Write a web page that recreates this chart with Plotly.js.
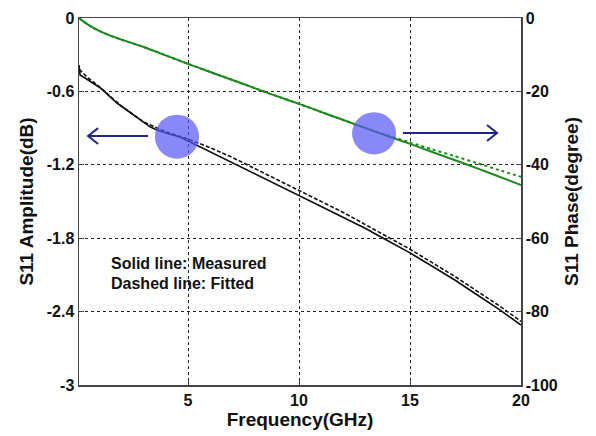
<!DOCTYPE html>
<html>
<head>
<meta charset="utf-8">
<script src="https://cdn.plot.ly/plotly-3.0.1.min.js"></script>
<style>html,body{margin:0;padding:0;background:#fff;}#chart{width:596px;height:436px;}</style>
</head>
<body>
<div id="chart"></div>
<script>
// Measured S11 amplitude (dB) vs frequency (GHz)
const freqAmpMeas = [0.09, 0.14, 0.36, 1.04, 1.8, 2.52, 3.29, 3.6, 4.0, 4.64, 5, 6, 7, 8, 9, 10, 11, 12, 13, 14, 15, 16, 17, 18, 19, 20];
const ampMeas     = [-0.384, -0.466, -0.49, -0.57, -0.695, -0.79, -0.89, -0.915, -0.94, -0.973, -1.005, -1.09, -1.18, -1.27, -1.36, -1.45, -1.54, -1.63, -1.72, -1.82, -1.92, -2.03, -2.14, -2.26, -2.38, -2.51];
// Fitted S11 amplitude (dB)
const freqAmpFit = [0.1, 0.5, 1, 2, 3, 4, 5, 6, 7, 8, 9, 10, 11, 12, 13, 14, 15, 16, 17, 18, 19, 20];
const ampFit     = [-0.42, -0.49, -0.56, -0.72, -0.85, -0.93, -0.99, -1.06, -1.14, -1.23, -1.32, -1.41, -1.50, -1.59, -1.69, -1.79, -1.89, -2.00, -2.11, -2.23, -2.35, -2.48];
// Measured S11 phase (degree)
const freqPhase  = [0.1, 0.3, 0.6, 1, 1.5, 2, 3, 4, 5, 6, 7, 8, 9, 10, 11, 12, 13, 14, 15, 16, 17, 18, 19, 20];
const phaseMeas  = [0, -1.0, -2.2, -3.5, -4.8, -5.9, -7.9, -10.2, -12.5, -14.7, -16.9, -19.1, -21.3, -23.4, -25.6, -27.8, -30.0, -32.2, -34.3, -36.5, -38.7, -40.9, -43.2, -45.5];
// Fitted S11 phase (degree)
const phaseFit   = [0, -1.0, -2.2, -3.5, -4.8, -5.9, -7.9, -10.2, -12.5, -14.7, -16.9, -19.1, -21.3, -23.4, -25.6, -27.8, -30.0, -32.0, -33.9, -35.8, -37.6, -39.5, -41.4, -43.3];

const xTicks = [5, 10, 15, 20];
const yLeftTicks = [0, -0.6, -1.2, -1.8, -2.4, -3];
const yLeftLabels = ['0', '-0.6', '-1.2', '-1.8', '-2.4', '-3'];
const yRightTicks = [0, -20, -40, -60, -80, -100];
const yRightLabels = ['0', '-20', '-40', '-60', '-80', '-100'];

const FONT = 'Arial, "Liberation Sans", Helvetica, sans-serif';
const GREEN = 'rgb(28,138,28)';
const BLACK = '#111111';
const NAVY = '#22228c';

const traces = [
  {x: freqPhase, y: phaseFit, yaxis: 'y2', mode: 'lines', line: {color: GREEN, width: 2, dash: 'dot', shape: 'spline', smoothing: 0.6}},
  {x: freqPhase, y: phaseMeas, yaxis: 'y2', mode: 'lines', line: {color: GREEN, width: 2, shape: 'spline', smoothing: 0.6}},
  {x: freqAmpFit, y: ampFit, yaxis: 'y', mode: 'lines', line: {color: BLACK, width: 1.6, dash: '4px,2px'}},
  {x: freqAmpMeas, y: ampMeas, yaxis: 'y', mode: 'lines', line: {color: BLACK, width: 1.7}}
];

const tickFont = {family: FONT, size: 16, color: '#111', weight: 'bold'};
const titleFont = {family: FONT, size: 19, color: '#111', weight: 'bold'};

// arrow geometry (data units)
const lArrow = {y: -0.965, x0: 3.2, x1: 0.5};
const rArrow = {y: -0.94, x0: 14.68, x1: 18.92};
const headDx = 0.45, headDy = 0.065;

const shapes = [
  {type: 'line', xref: 'x', yref: 'y', x0: lArrow.x0, x1: lArrow.x1, y0: lArrow.y, y1: lArrow.y, line: {color: NAVY, width: 2}},
  {type: 'path', xref: 'x', yref: 'y', path: `M ${lArrow.x1 + headDx},${lArrow.y + headDy} L ${lArrow.x1},${lArrow.y} L ${lArrow.x1 + headDx},${lArrow.y - headDy}`, line: {color: NAVY, width: 2}},
  {type: 'line', xref: 'x', yref: 'y', x0: rArrow.x0, x1: rArrow.x1, y0: rArrow.y, y1: rArrow.y, line: {color: NAVY, width: 2}},
  {type: 'path', xref: 'x', yref: 'y', path: `M ${rArrow.x1 - headDx},${rArrow.y + headDy} L ${rArrow.x1},${rArrow.y} L ${rArrow.x1 - headDx},${rArrow.y - headDy}`, line: {color: NAVY, width: 2}},
  {type: 'circle', xref: 'x', yref: 'y', x0: 3.51, x1: 5.5, y0: -0.79, y1: -1.15, fillcolor: 'rgb(85,85,245)', opacity: 0.7, line: {width: 0}, layer: 'above'},
  {type: 'circle', xref: 'x', yref: 'y', x0: 12.39, x1: 14.37, y0: -0.77, y1: -1.115, fillcolor: 'rgb(85,85,245)', opacity: 0.7, line: {width: 0}, layer: 'above'}
];

const annotations = [
  {xref: 'x', yref: 'y', x: 1.45, y: -2.01, xanchor: 'left', yanchor: 'middle', showarrow: false, text: 'Solid line: Measured', font: {family: FONT, size: 16, color: '#111', weight: 'bold'}},
  {xref: 'x', yref: 'y', x: 1.45, y: -2.17, xanchor: 'left', yanchor: 'middle', showarrow: false, text: 'Dashed line: Fitted', font: {family: FONT, size: 16, color: '#111', weight: 'bold'}}
];

const layout = {
  width: 596, height: 436,
  margin: {l: 79, r: 75, t: 18, b: 51, pad: 0},
  paper_bgcolor: '#fff', plot_bgcolor: '#fff',
  showlegend: false,
  xaxis: {
    range: [0.09, 20], tickvals: xTicks, ticktext: xTicks.map(String),
    showgrid: true, gridcolor: '#222', griddash: 'dot', gridwidth: 1,
    showline: true, linecolor: '#444', linewidth: 1.5, mirror: true,
    ticks: 'inside', ticklen: 5, tickcolor: '#444', zeroline: false,
    tickfont: tickFont,
    title: {text: 'Frequency(GHz)', font: titleFont, standoff: 3}
  },
  yaxis: {
    range: [-3, 0], tickvals: yLeftTicks, ticktext: yLeftLabels,
    showgrid: true, gridcolor: '#222', griddash: '3px,3px', gridwidth: 1,
    showline: true, linecolor: '#444', linewidth: 1.5,
    ticks: 'inside', ticklen: 5, tickcolor: '#444', zeroline: false,
    tickfont: tickFont,
    title: {text: 'S11 Amplitude(dB)', font: titleFont, standoff: 8}
  },
  yaxis2: {
    range: [-100, 0], tickvals: yRightTicks, ticktext: yRightLabels,
    overlaying: 'y', side: 'right', showgrid: false,
    showline: true, linecolor: '#444', linewidth: 1.5,
    ticks: 'inside', ticklen: 5, tickcolor: '#444', zeroline: false,
    tickfont: tickFont,
    title: {text: 'S11 Phase(degree)', font: titleFont, standoff: 8}
  },
  shapes: shapes,
  annotations: annotations
};

Plotly.newPlot('chart', traces, layout, {staticPlot: true, displayModeBar: false});
</script>
</body>
</html>
